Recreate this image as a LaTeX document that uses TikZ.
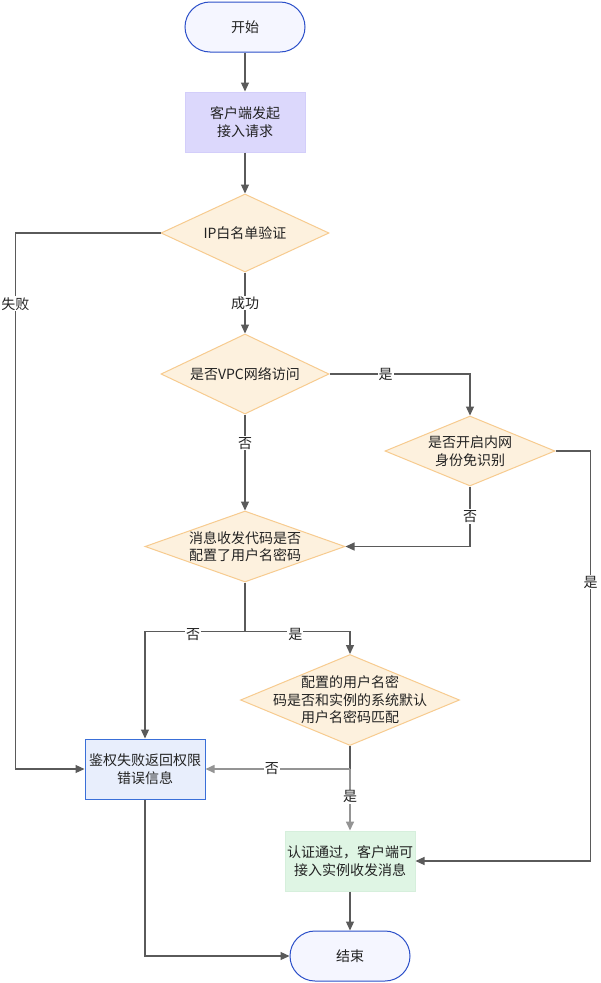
\documentclass[tikz,border=0pt]{standalone}
\usepackage{fontspec}
\newfontfamily\cjk{Noto Sans CJK SC}
\usetikzlibrary{positioning,arrows.meta,shapes.geometric}
\definecolor{termline}{HTML}{2B4FC9}
\definecolor{termfill}{HTML}{F5F6FF}
\definecolor{reqfill}{HTML}{DCD8FC}
\definecolor{reqedge}{HTML}{D3CEFA}
\definecolor{diafill}{HTML}{FDF1DE}
\definecolor{diaedge}{HTML}{F7CB8F}
\definecolor{denyfill}{HTML}{E8EEFC}
\definecolor{denyedge}{HTML}{3A6FD8}
\definecolor{passfill}{HTML}{DFF5E4}
\definecolor{passedge}{HTML}{D6EFDC}
\definecolor{lncol}{HTML}{5A5A5A}
\definecolor{txt}{HTML}{222222}

\begin{document}
\begin{tikzpicture}[x=1pt,y=-1pt,
term/.style={draw=termline,fill=termfill,line width=1pt,rounded corners=25pt,minimum width=120pt,minimum height=50pt,font=\cjk\fontsize{14}{17.5}\selectfont,text=txt},
box/.style={draw,line width=1pt,minimum width=120pt,minimum height=60pt,align=center,inner sep=2pt,font=\cjk\fontsize{14}{17.5}\selectfont,text=txt},
dia/.style={diamond,draw=diaedge,fill=diafill,line width=1pt,aspect=2,inner sep=-15pt,align=center,font=\cjk\fontsize{14}{17.5}\selectfont,text=txt},
arr/.style={-{Triangle[length=9pt,width=8pt]},draw=lncol,line width=1.2pt},
lbl/.style={fill=white,inner sep=1pt,font=\cjk\fontsize{14}{16}\selectfont,text=txt}]
\useasboundingbox[fill=white] (0,0) rectangle (600,983);
\node[term] (start) at (245,27) {开始};
\node[box,draw=reqedge,fill=reqfill,below=39pt of start] (req) {客户端发起\\接入请求};
\node[dia,minimum width=168pt,minimum height=78pt,below=41pt of req] (ipchk) {IP白名单验证};
\node[dia,minimum width=168pt,minimum height=80pt,below=61pt of ipchk] (vpc) {是否VPC网络访问};
\node[dia,minimum width=170pt,minimum height=70pt] (inner) at (470,451) {是否开启内网\\身份免识别};
\node[dia,minimum width=200pt,minimum height=71pt,below=96pt of vpc] (pwdset) {消息收发代码是否\\配置了用户名密码};
\node[dia,minimum width=219pt,minimum height=91pt] (pwdok) at (350,700) {配置的用户名密\\码是否和实例的系统默认\\用户名密码匹配};
\node[box,draw=denyedge,fill=denyfill] (deny) at (145,769) {鉴权失败返回权限\\错误信息};
\node[box,draw=passedge,fill=passfill,minimum width=130pt] (pass) at (350,861) {认证通过，客户端可\\接入实例收发消息};
\node[term] (stop) at (350,956) {结束};
\draw[arr] (start) -- (req);
\draw[arr] (req) -- (ipchk);
\draw[arr] (ipchk) -- (vpc) node[lbl,pos=.5] (ipok) {成功};
\draw[arr] (ipchk.west) -- ++(-145,0) |- (deny.west) node[lbl,pos=.066] (ipfail) {失败};
\draw[arr] (vpc.east) -| (inner.north) node[lbl,pos=.2] (vpcyes) {是};
\draw[arr] (vpc) -- (pwdset) node[lbl,pos=.3] (vpcno) {否};
\draw[arr] (inner.south) |- (pwdset.east) node[lbl,pos=.25] (innerno) {否};
\draw[arr] (inner.east) -- ++(35,0) |- (pass.east) node[lbl,pos=.16] (inneryes) {是};
\draw[draw=lncol,line width=1.2pt] (pwdset.south) -- ++(0,49) coordinate (split);
\draw[arr] (split) -| (deny.north) node[lbl,pos=.26,yshift=-3pt] (setno) {否};
\draw[arr] (split) -| (pwdok.north) node[lbl,pos=.24,yshift=-3pt] (setyes) {是};
\draw[draw=lncol,line width=1.2pt] (pwdok.south) -- ++(0,23) coordinate (merge);
\draw[arr,draw=lncol!65,line width=1.6pt] (merge) -- (deny.east) node[lbl,pos=.54] (matchno) {否};
\draw[arr,draw=lncol!65,line width=1.6pt] (merge) -- (pass.north) node[lbl,pos=.45] (matchyes) {是};
\draw[arr] (deny.south) |- (stop.west);
\draw[arr] (pass) -- (stop);
\end{tikzpicture}
\end{document}
